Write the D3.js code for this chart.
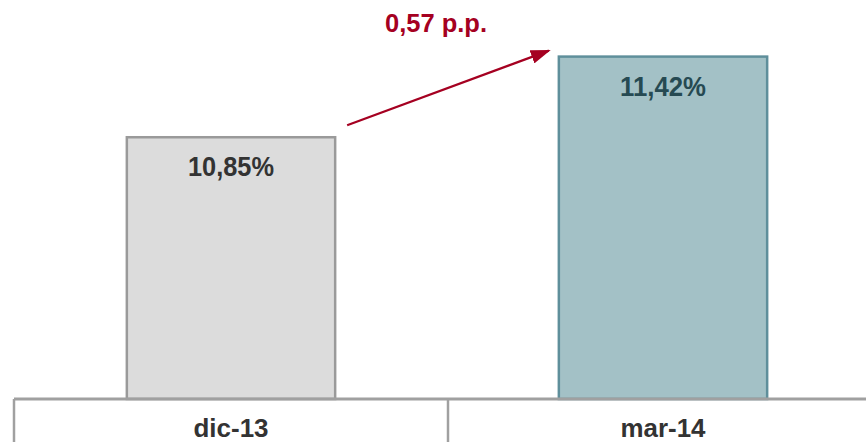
<!DOCTYPE html>
<html>
<head>
<meta charset="utf-8">
<script src="https://cdn.jsdelivr.net/npm/d3@7"></script>
<style>
  body { margin: 0; background: #fff; }
  text { font-family: "Liberation Sans", Arial, sans-serif; font-weight: bold; }
</style>
</head>
<body>
<svg id="chart" width="866" height="442"></svg>
<script>
// data
const categories = ["dic-13", "mar-14"];
const values = [10.85, 11.42];
const barFills = ["#dcdcdc", "#a3c1c6"];
const barStrokes = ["#9a9a9a", "#5f8f9b"];
const labelColors = ["#333333", "#264a52"];
const changeText = "0,57 p.p.";

var width = 866;
var height = 442;
var baseY = 399;

var svg = d3.select("#chart");

var esFormat = d3.formatLocale({ decimal: ",", thousands: ".", grouping: [3], currency: ["", "€"] }).format(".2f");

// scales
var x = d3.scaleBand()
    .domain(categories)
    .range([14, 882])
    .padding(0);

var y = d3.scaleLinear()
    .domain([9, 11.82])
    .range([baseY, 0]);

var barW = x.bandwidth() * 0.48;
function barX(c) { return x(c) + (x.bandwidth() - barW) / 2 - (c == categories[1] ? 2 : 0); }

var data = categories.map((c, i) => ({ cat: c, value: values[i], i: i }));

// arrow marker
svg.append("defs").append("marker")
    .attr("id", "arrow")
    .attr("viewBox", "0 0 20 14")
    .attr("refX", 18)
    .attr("refY", 7)
    .attr("markerWidth", 20)
    .attr("markerHeight", 14)
    .attr("markerUnits", "userSpaceOnUse")
    .attr("orient", "auto")
    .append("path")
    .attr("d", "M0,0 L20,7 L0,14 Z")
    .attr("fill", "#a50021");

// bars
svg.selectAll("rect.bar")
    .data(data)
    .enter()
    .append("rect")
    .attr("class", "bar")
    .attr("x", d => barX(d.cat))
    .attr("y", d => y(d.value))
    .attr("width", barW)
    .attr("height", d => baseY - y(d.value))
    .attr("fill", d => barFills[d.i])
    .attr("stroke", d => barStrokes[d.i])
    .attr("stroke-width", 2.5);

// value labels
svg.selectAll("text.val")
    .data(data)
    .enter()
    .append("text")
    .attr("class", "val")
    .attr("x", d => barX(d.cat) + barW / 2)
    .attr("y", d => y(d.value) + 39)
    .attr("text-anchor", "middle")
    .attr("font-size", 27)
    .attr("fill", d => labelColors[d.i])
    .attr("textLength", 86)
    .attr("lengthAdjust", "spacingAndGlyphs")
    .text(d => esFormat(d.value) + "%");

// axis line and category dividers
svg.append("line")
    .attr("x1", x(categories[0])).attr("x2", width)
    .attr("y1", baseY).attr("y2", baseY)
    .attr("stroke", "#a0a0a0").attr("stroke-width", 3);

svg.selectAll("line.div")
    .data(categories)
    .enter()
    .append("line")
    .attr("class", "div")
    .attr("x1", d => x(d)).attr("x2", d => x(d))
    .attr("y1", baseY).attr("y2", height)
    .attr("stroke", "#a0a0a0").attr("stroke-width", 2.5);

svg.selectAll("text.cat")
    .data(categories)
    .enter()
    .append("text")
    .attr("class", "cat")
    .attr("x", d => barX(d) + barW / 2)
    .attr("y", 437)
    .attr("text-anchor", "middle")
    .attr("font-size", 25)
    .attr("fill", "#333333")
    .attr("textLength", d => d == "dic-13" ? 75 : 85)
    .attr("lengthAdjust", "spacingAndGlyphs")
    .text(d => d);

// change arrow
var x0 = barX(categories[0]) + barW + 12, y0 = y(values[0]) - 12;
var x1 = barX(categories[1]) - 10, y1 = y(values[1]) - 6;
svg.append("line")
    .attr("x1", x0).attr("y1", y0)
    .attr("x2", x1).attr("y2", y1)
    .attr("stroke", "#a50021")
    .attr("stroke-width", 2.2)
    .attr("marker-end", "url(#arrow)");

svg.append("text")
    .attr("x", 436)
    .attr("y", 32)
    .attr("text-anchor", "middle")
    .attr("font-size", 26)
    .attr("fill", "#a50021")
    .attr("textLength", 102)
    .attr("lengthAdjust", "spacingAndGlyphs")
    .text(changeText);
</script>
</body>
</html>
